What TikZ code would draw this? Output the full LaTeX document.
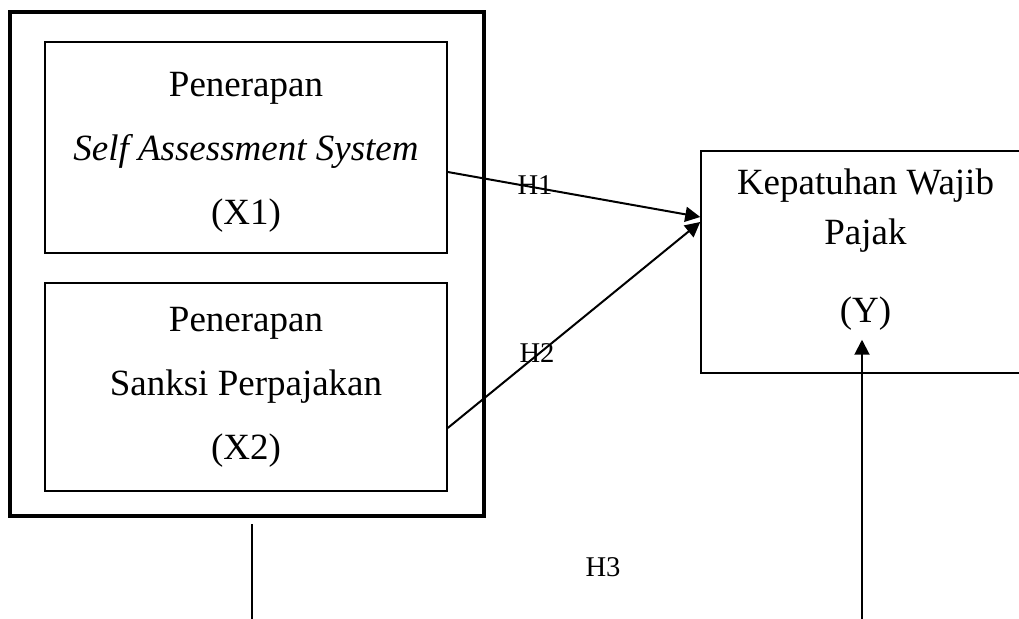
\documentclass[tikz,border=0pt]{standalone}
\usepackage{fontspec}
\setmainfont{Liberation Serif}
\usetikzlibrary{arrows.meta}
\definecolor{black}{RGB}{0,0,0}

\tikzset{
	var_box/.style={rectangle,draw=black,line width=0.75pt,align=center,inner sep=0pt,
		minimum width=201pt,minimum height=105.5pt,font=\fontsize{18.5}{32}\selectfont},
	hyp_arrow/.style={black,line width=1pt,-{Triangle[length=7.5pt,width=7.5pt]}},
	hyp_label/.style={font=\fontsize{14.3}{17}\selectfont,inner sep=0pt}
}

\begin{document}
\begin{tikzpicture}[x=0.5pt,y=-0.5pt]
	\clip (0,0) rectangle (1019,619);
	\node[rectangle,draw=black,line width=2.2pt,minimum width=237pt,minimum height=252pt] (outer) at (247,264) {};
	\node[var_box,
		label={[yshift=-2.5pt,align=center,inner sep=0pt,font=\fontsize{18.5}{32}\selectfont]center:Penerapan\\\textit{Self Assessment System}\\(X1)}] (x1) at (246,147.5) {};
	\node[var_box,minimum height=104pt] (x2) at (246,387) {Penerapan\\Sanksi Perpajakan\\(X2)};
	\node[var_box,minimum width=164.5pt,minimum height=111pt,
		label={[yshift=6pt,align=center,inner sep=0pt,font=\fontsize{18.5}{25}\selectfont]center:Kepatuhan Wajib\\Pajak\\[14pt](Y)}] (y) at (865.5,262) {};

	\node[hyp_label] (h1) at (535,185) {H1};
	\node[hyp_label] (h2) at (537,353) {H2};
	\node[hyp_label] (h3) at (603,567) {H3};

	\coordinate (low_left) at (252,630);
	\coordinate (low_right) at (862,630);

	\draw[hyp_arrow] ([yshift=-12.25pt]x1.east) -- ([yshift=22.5pt]y.west);
	\draw[hyp_arrow] ([yshift=-20.5pt]x2.east) -- ([yshift=20pt]y.west);
	\draw[black,line width=0.75pt] ([xshift=2.5pt,yshift=-3pt]outer.south) -- (low_left);
	\draw[hyp_arrow] (low_right) -- ([xshift=-1.75pt,yshift=17pt]y.south);
\end{tikzpicture}
\end{document}
